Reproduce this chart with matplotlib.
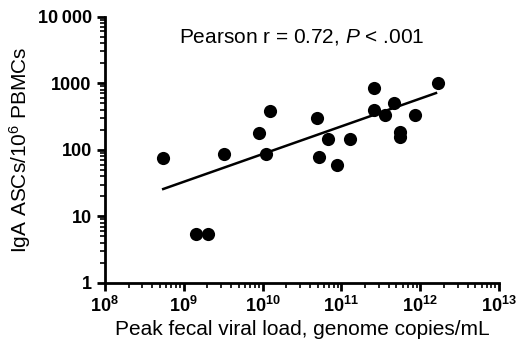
import numpy as np
import matplotlib
matplotlib.use("Agg")
import matplotlib.pyplot as plt
from matplotlib.ticker import LogLocator, FixedLocator, FixedFormatter, NullFormatter

plt.rcParams['font.family'] = ['Liberation Sans', 'DejaVu Sans']
plt.rcParams['mathtext.fontset'] = 'custom'
plt.rcParams['mathtext.rm'] = 'Liberation Sans'
plt.rcParams['mathtext.bf'] = 'Liberation Sans:bold'
plt.rcParams['mathtext.it'] = 'Liberation Sans:italic'

# log10 of peak fecal viral load and IgA ASCs per 10^6 PBMCs
log_viral_load = [8.74, 9.16, 9.31, 9.51, 9.96, 10.05, 10.09, 10.69, 10.71, 10.83,
                  10.94, 11.11, 11.41, 11.41, 11.55, 11.67, 11.74, 11.74, 11.93, 12.22]
iga_ascs = [75, 5.4, 5.4, 86, 178, 86, 385, 299, 79, 146,
            58, 147, 841, 398, 335, 501, 182, 158, 335, 1000]

# regression line as drawn in the figure
fit_log_x = [8.74, 12.2]
fit_y = [25.7, 710]

x_ticks = [1e8, 1e9, 1e10, 1e11, 1e12, 1e13]
x_labels = [r'$\mathbf{10^{8}}$', r'$\mathbf{10^{9}}$', r'$\mathbf{10^{10}}$',
            r'$\mathbf{10^{11}}$', r'$\mathbf{10^{12}}$', r'$\mathbf{10^{13}}$']
y_ticks = [1, 10, 100, 1000, 10000]
y_labels = ['1', '10', '100', '1000', '10\u2009000']

x = 10 ** np.array(log_viral_load)
y = np.array(iga_ascs)

fig = plt.figure(figsize=(5.27, 3.45), dpi=100)
ax = fig.add_axes([0.199, 0.180, 0.748, 0.772])

ax.scatter(x, y, s=90, color='black', zorder=3, linewidths=0)
ax.plot(10 ** np.array(fit_log_x), fit_y, color='black', lw=1.8)

ax.set_xscale('log')
ax.set_yscale('log')
ax.set_xlim(1e8, 1e13)
ax.set_ylim(1, 10000)

ax.xaxis.set_major_locator(FixedLocator(x_ticks))
ax.xaxis.set_major_formatter(FixedFormatter(x_labels))
ax.yaxis.set_major_locator(FixedLocator(y_ticks))
ax.yaxis.set_major_formatter(FixedFormatter(y_labels))
ax.xaxis.set_minor_locator(LogLocator(base=10, subs=np.arange(2, 10), numticks=20))
ax.yaxis.set_minor_locator(LogLocator(base=10, subs=np.arange(2, 10), numticks=20))
ax.xaxis.set_minor_formatter(NullFormatter())
ax.yaxis.set_minor_formatter(NullFormatter())

for s in ['top', 'right']:
    ax.spines[s].set_visible(False)
for s in ['left', 'bottom']:
    ax.spines[s].set_linewidth(2)

ax.tick_params(which='major', length=6, width=2, direction='out', labelsize=13)
ax.tick_params(which='minor', length=3.5, width=1.2, direction='out')
for lbl in ax.get_yticklabels():
    lbl.set_fontweight('bold')

ax.set_xlabel('Peak fecal viral load, genome copies/mL', fontsize=15, labelpad=3)
ax.set_ylabel(r'IgA ASCs/10$^{6}$ PBMCs', fontsize=15, labelpad=3)

ax.text(0.5, 0.925, r'Pearson r = 0.72, $\mathit{P}$ < .001', transform=ax.transAxes,
        ha='center', va='center', fontsize=15)

fig.savefig('out.png', dpi=100)
